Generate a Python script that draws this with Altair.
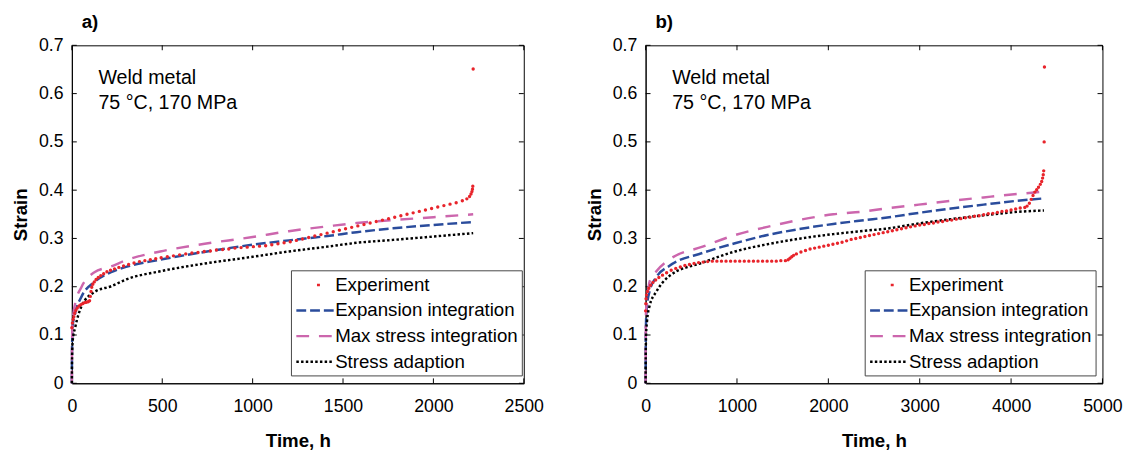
import altair as alt
import pandas as pd

SERIES = ["Experiment", "Expansion integration", "Max stress integration", "Stress adaption"]
COLORS = ["#e8242b", "#2a4c9c", "#cc66ad", "#000000"]
DASHES = [[0, 21, 3, 80], [10, 4], [13, 10], [2.5, 2.3]]
FONT = "Liberation Sans"

Y_TICKS = [0, 0.1, 0.2, 0.3, 0.4, 0.5, 0.6, 0.7]
A_X_TICKS = [0, 500, 1000, 1500, 2000, 2500]
B_X_TICKS = [0, 1000, 2000, 3000, 4000, 5000]

# ---------------- panel a ----------------
A_EXP_T = [0, 3, 7, 11, 16, 22, 30, 40, 50, 60, 70, 80, 90, 98, 102, 106, 110, 116, 124, 134,
           146, 160, 176, 194, 214, 236, 260, 286, 314, 344, 374, 404, 434, 464, 494, 528, 562,
           596, 630, 664, 698, 732, 766, 800, 834, 868, 902, 936, 970, 1004, 1038, 1072, 1106,
           1140, 1174, 1208, 1242, 1276, 1310, 1344, 1378, 1412, 1446, 1480, 1514, 1548, 1582,
           1616, 1650, 1684, 1718, 1752, 1786, 1820, 1854, 1888, 1922, 1956, 1990, 2024, 2058,
           2092, 2126, 2160, 2185, 2200, 2208, 2213, 2216, 2218, 2220]
A_EXP_V = [0.115, 0.125, 0.132, 0.138, 0.145, 0.151, 0.156, 0.160, 0.163, 0.165, 0.167, 0.168,
           0.169, 0.171, 0.180, 0.190, 0.199, 0.205, 0.210, 0.215, 0.219, 0.223, 0.227, 0.231,
           0.234, 0.237, 0.240, 0.243, 0.246, 0.249, 0.252, 0.254, 0.256, 0.258, 0.260, 0.262,
           0.264, 0.266, 0.268, 0.270, 0.271, 0.273, 0.274, 0.276, 0.277, 0.278, 0.280, 0.281,
           0.282, 0.283, 0.284, 0.285, 0.287, 0.289, 0.291, 0.293, 0.296, 0.299, 0.302, 0.305,
           0.308, 0.311, 0.314, 0.317, 0.320, 0.323, 0.326, 0.329, 0.332, 0.335, 0.338, 0.341,
           0.344, 0.347, 0.350, 0.353, 0.356, 0.359, 0.362, 0.365, 0.368, 0.371, 0.374, 0.378,
           0.382, 0.387, 0.392, 0.397, 0.402, 0.408, 0.651]
A_MOD_T = [0, 1, 5, 18, 54, 125, 217, 300, 489, 700, 1000, 1200, 1413, 1576, 1777, 2000, 2220]
A_PINK = [0, 0.08, 0.13, 0.165, 0.200, 0.230, 0.242, 0.255, 0.273, 0.287, 0.303, 0.315, 0.325,
          0.332, 0.338, 0.344, 0.350]
A_BLUE = [0, 0.07, 0.12, 0.145, 0.180, 0.210, 0.230, 0.241, 0.256, 0.270, 0.287, 0.296, 0.305,
          0.313, 0.321, 0.328, 0.334]
A_BLACK = [0, 0.05, 0.09, 0.115, 0.160, 0.189, 0.201, 0.215, 0.232, 0.246, 0.262, 0.273, 0.283,
           0.291, 0.297, 0.304, 0.311]

# ---------------- panel b ----------------
B_EXP_T = [0, 2, 5, 10, 20, 35, 55, 80, 110, 145, 185, 230, 280, 330, 380, 430, 480, 530, 580,
           630, 680, 730, 780, 830, 880, 930, 980, 1030, 1080, 1130, 1180, 1230, 1280, 1330,
           1380, 1430, 1480, 1530, 1560, 1580, 1600, 1620, 1650, 1700, 1750, 1800, 1850, 1900,
           1950, 2000, 2050, 2100, 2150, 2200, 2250, 2300, 2350, 2400, 2450, 2500, 2550, 2600,
           2650, 2700, 2750, 2800, 2850, 2900, 2950, 3000, 3050, 3100, 3150, 3200, 3250, 3300,
           3350, 3400, 3450, 3500, 3550, 3600, 3650, 3700, 3750, 3800, 3850, 3900, 3950, 4000,
           4050, 4100, 4150, 4175, 4200, 4220, 4240, 4260, 4280, 4300, 4320, 4335, 4345, 4352,
           4357, 4362, 4365]
B_EXP_V = [0.150, 0.165, 0.175, 0.183, 0.190, 0.197, 0.203, 0.209, 0.214, 0.219, 0.224, 0.229,
           0.234, 0.238, 0.241, 0.244, 0.246, 0.248, 0.250, 0.251, 0.252, 0.253, 0.253, 0.253,
           0.253, 0.253, 0.253, 0.253, 0.253, 0.253, 0.253, 0.253, 0.253, 0.253, 0.253, 0.253,
           0.254, 0.254, 0.256, 0.259, 0.262, 0.265, 0.268, 0.272, 0.275, 0.278, 0.280, 0.282,
           0.284, 0.286, 0.288, 0.290, 0.292, 0.295, 0.298, 0.300, 0.302, 0.304, 0.306, 0.308,
           0.310, 0.312, 0.314, 0.316, 0.318, 0.320, 0.322, 0.324, 0.326, 0.328, 0.329, 0.331,
           0.332, 0.334, 0.335, 0.337, 0.338, 0.340, 0.341, 0.343, 0.344, 0.346, 0.347, 0.349,
           0.351, 0.352, 0.354, 0.356, 0.357, 0.359, 0.361, 0.363, 0.364, 0.367, 0.373, 0.381,
           0.389, 0.396, 0.401, 0.406, 0.412, 0.418, 0.425, 0.432, 0.440, 0.500, 0.655]
B_MOD_T = [0, 1, 5, 15, 43, 118, 258, 624, 978, 1333, 1699, 2054, 2400, 2624, 2989, 3344, 3699,
           4065, 4360]
B_PINK = [0, 0.10, 0.15, 0.17, 0.21, 0.232, 0.256, 0.283, 0.307, 0.324, 0.339, 0.350, 0.356,
          0.362, 0.370, 0.378, 0.385, 0.392, 0.397]
B_BLUE = [0, 0.08, 0.13, 0.16, 0.19, 0.22, 0.243, 0.270, 0.290, 0.307, 0.320, 0.330, 0.338,
          0.343, 0.353, 0.362, 0.370, 0.378, 0.383]
B_BLACK = [0, 0.05, 0.10, 0.128, 0.16, 0.19, 0.222, 0.250, 0.273, 0.288, 0.300, 0.309, 0.316,
           0.320, 0.331, 0.340, 0.348, 0.355, 0.358]

ANNOT = ["Weld metal", "75 °C, 170 MPa"]


def models_df(t, blue, pink, black):
    rows = []
    for name, vals in [(SERIES[1], blue), (SERIES[2], pink), (SERIES[3], black)]:
        rows += [{"t": ti, "v": vi, "series": name} for ti, vi in zip(t, vals)]
    return pd.DataFrame(rows)


def panel(label, exp_t, exp_v, mod_t, blue, pink, black, xmax, xticks, width):
    W, H = width, 344
    xs = alt.Scale(domain=[0, xmax], nice=False)
    ys = alt.Scale(domain=[0, 0.7], nice=False)
    xax = alt.Axis(values=xticks, format="d", grid=False, ticks=False, labelFlush=False,
                   labelPadding=15, titlePadding=16)
    yax = alt.Axis(values=Y_TICKS, format="~g", grid=False, ticks=False, labelFlush=False,
                   labelPadding=9, titlePadding=8)

    def X():
        return alt.X("t:Q", scale=xs, axis=xax, title="Time, h")

    def Y():
        return alt.Y("v:Q", scale=ys, axis=yax, title="Strain")

    ydf = pd.DataFrame({"v": Y_TICKS})
    xdf = pd.DataFrame({"t": xticks})
    rule = dict(color="black", strokeWidth=1)
    yt_l = alt.Chart(ydf).mark_rule(**rule).encode(y=Y(), x=alt.value(0), x2=alt.value(5))
    yt_r = alt.Chart(ydf).mark_rule(**rule).encode(y=Y(), x=alt.value(W), x2=alt.value(W - 5))
    xt_b = alt.Chart(xdf).mark_rule(**rule).encode(x=X(), y=alt.value(H), y2=alt.value(H - 5))
    xt_t = alt.Chart(xdf).mark_rule(**rule).encode(x=X(), y=alt.value(0), y2=alt.value(5))

    leg = alt.Legend(orient="none", legendX=223, legendY=229, title=None,
                     fillColor="white", strokeColor="#444444", padding=4,
                     labelFont=FONT, labelFontSize=19, labelColor="black", labelLimit=400,
                     labelOffset=19, symbolSize=361, symbolStrokeWidth=2.5,
                     symbolType="M-1,0L3,0", rowPadding=5)
    lines = alt.Chart(models_df(mod_t, blue, pink, black)).mark_line(
        strokeWidth=2.5, interpolate="monotone"
    ).encode(
        x=X(), y=Y(),
        color=alt.Color("series:N", scale=alt.Scale(domain=SERIES, range=COLORS), legend=leg),
        strokeDash=alt.StrokeDash("series:N", scale=alt.Scale(domain=SERIES, range=DASHES),
                                  legend=leg),
    )
    pts = alt.Chart(pd.DataFrame({"t": exp_t, "v": exp_v})).mark_circle(
        size=12, opacity=1, color=COLORS[0]
    ).encode(x=X(), y=Y())

    txt1 = alt.Chart(pd.DataFrame({"s": [ANNOT[0]]})).mark_text(
        align="left", baseline="middle", font=FONT, fontSize=20, color="black"
    ).encode(text="s:N", x=alt.value(27), y=alt.value(33))
    txt2 = alt.Chart(pd.DataFrame({"s": [ANNOT[1]]})).mark_text(
        align="left", baseline="middle", font=FONT, fontSize=20, color="black"
    ).encode(text="s:N", x=alt.value(27), y=alt.value(59))

    return alt.layer(xt_b, xt_t, yt_l, yt_r, lines, pts, txt1, txt2).properties(
        width=W, height=H,
        title=alt.TitleParams(label, anchor="start", frame="group", dx=10, fontSize=19,
                              fontWeight="bold", font=FONT, offset=5, color="black"),
    )


pa = panel("a)", A_EXP_T, A_EXP_V, A_MOD_T, A_BLUE, A_PINK, A_BLACK, 2500, A_X_TICKS, 460)
pb = panel("b)", B_EXP_T, B_EXP_V, B_MOD_T, B_BLUE, B_PINK, B_BLACK, 5000, B_X_TICKS, 465)

chart = alt.hconcat(pa, pb, spacing=124, bounds="flush").resolve_scale(
    x="independent", y="independent", color="independent", strokeDash="independent"
).resolve_legend(
    color="independent", strokeDash="independent"
).configure_view(
    stroke="black", strokeWidth=1
).configure_axis(
    labelFont=FONT, titleFont=FONT, labelFontSize=18, titleFontSize=19,
    titleFontWeight="bold", labelColor="black", titleColor="black",
    domainColor="black", domainWidth=1
).properties(
    padding={"left": 3, "top": 0, "right": 5, "bottom": 0}
)

chart.save("out.html", embed_options={"renderer": "svg", "actions": False})
